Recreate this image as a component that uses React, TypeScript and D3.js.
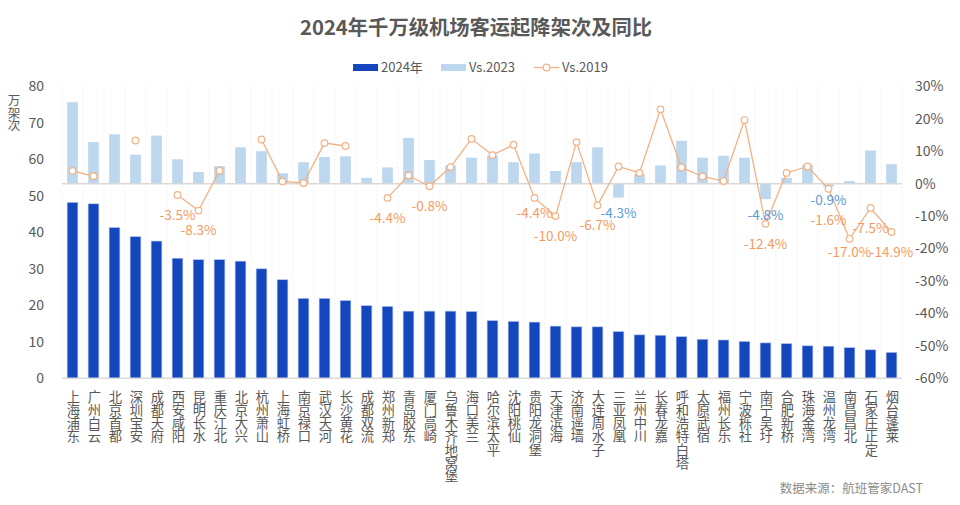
import React from "react";
import * as d3 from "d3";

const categories: string[] = [
  "上海浦东", "广州白云", "北京首都", "深圳宝安", "成都天府", "西安咸阳", "昆明长水", "重庆江北",
  "北京大兴", "杭州萧山", "上海虹桥", "南京禄口", "武汉天河", "长沙黄花", "成都双流", "郑州新郑",
  "青岛胶东", "厦门高崎", "乌鲁木齐地窝堡", "海口美兰", "哈尔滨太平", "沈阳桃仙", "贵阳龙洞堡", "天津滨海",
  "济南遥墙", "大连周水子", "三亚凤凰", "兰州中川", "长春龙嘉", "呼和浩特白塔", "太原武宿", "福州长乐",
  "宁波栎社", "南宁吴圩", "合肥新桥", "珠海金湾", "温州龙湾", "南昌昌北", "石家庄正定", "烟台蓬莱",
];

const movements2024: number[] = [
  48.2, 47.8, 41.3, 38.8, 37.6, 32.9, 32.5, 32.5, 32.1, 30.0,
  27.0, 21.9, 21.9, 21.3, 19.9, 19.7, 18.4, 18.4, 18.4, 18.3,
  15.8, 15.6, 15.4, 14.3, 14.1, 14.1, 12.8, 11.9, 11.8, 11.4,
  10.7, 10.5, 10.1, 9.7, 9.5, 8.9, 8.8, 8.4, 7.8, 7.1,
];

const vs2023: number[] = [
  25.1, 12.8, 15.2, 8.9, 14.8, 7.5, 3.6, 5.4, 11.2, 10.0,
  3.2, 6.6, 8.2, 8.4, 1.8, 5.0, 14.1, 7.3, 5.6, 8.0,
  8.7, 6.6, 9.3, 3.9, 6.6, 11.2, -4.3, 2.9, 5.6, 13.2,
  8.0, 8.6, 8.0, -4.8, 1.8, 5.8, -0.9, 0.8, 10.2, 6.0,
];

const vs2019: (number | null)[] = [
  3.9, 2.3, null, 13.3, null, -3.5, -8.3, 4.0, null, 13.6,
  0.7, 0.2, 12.5, 11.6, null, -4.4, 2.5, -0.8, 5.1, 13.8,
  8.8, 12.0, -4.4, -10.0, 12.8, -6.7, 5.3, 3.3, 22.9, 5.0,
  2.2, 0.8, 19.6, -12.4, 3.3, 5.3, -1.6, -17.0, -7.5, -14.9,
];

const leftTicks: number[] = [0, 10, 20, 30, 40, 50, 60, 70, 80];
const rightTicks: number[] = [30, 20, 10, 0, -10, -20, -30, -40, -50, -60];

const seriesNames = { a: "2024年", b: "Vs.2023", c: "Vs.2019" };
const titleText = "2024年千万级机场客运起降架次及同比";
const unitText = "万架次";
const sourceText = "数据来源：航班管家DAST";

// label offsets (layout only)
const lineLabelDy: Record<number, number> = { 22: 15, 36: 31, 37: 13 };
const barLabelDy: Record<number, number> = { 36: 14 };

const W = 960;
const H = 505;
const plot = { left: 62, right: 902, top: 86.3, bottom: 378.3 };

const DARK = "#1446BE";
const LIGHT = "#BDD7EE";
const LINE = "#F4B183";
const ORANGE_TXT = "#F59B5F";
const BLUE_TXT = "#5B9BD5";
const AXIS_TXT = "#595959";
const FONT = "'Noto Sans CJK SC', 'Noto Sans', sans-serif";

export default function App() {
  const x = d3
    .scaleBand<number>()
    .domain(d3.range(categories.length))
    .range([plot.left, plot.right])
    .paddingInner(0.49)
    .paddingOuter(0.245);
  const yL = d3.scaleLinear().domain([0, 80]).range([plot.bottom, plot.top]);
  const yR = d3.scaleLinear().domain([-60, 30]).range([plot.bottom, plot.top]);
  const bw = x.bandwidth();
  const step = x.step();
  const cx = (i: number) => (x(i) as number) + bw / 2;

  const lineGen = d3
    .line<number | null>()
    .defined((d) => d !== null)
    .x((_, i) => cx(i))
    .y((d) => yR(d as number));

  const fmt = (v: number) => `${v.toFixed(1)}%`;

  return (
    <svg
      width={W}
      height={H}
      style={{ position: "absolute", left: 0, top: 0, background: "#fff" }}
      fontFamily={FONT}
    >
      <rect x={0} y={0} width={W} height={H} fill="#fff" />
      {/* title */}
      <text x={476} y={35} textAnchor="middle" fontSize={20.3} fontWeight="bold" fill={AXIS_TXT}>
        {titleText}
      </text>

      {/* legend */}
      <g fontSize={13} fill={AXIS_TXT}>
        <rect x={353} y={64} width={25} height={7} fill={DARK} />
        <text x={381} y={72}>{seriesNames.a}</text>
        <rect x={441} y={64} width={25} height={7} fill={LIGHT} />
        <text x={469} y={72}>{seriesNames.b}</text>
        <line x1={534} x2={559} y1={67.5} y2={67.5} stroke={LINE} strokeWidth={1.3} />
        <circle cx={546.5} cy={67.5} r={3.3} fill="#fff" stroke={LINE} strokeWidth={1.2} />
        <text x={562} y={72}>{seriesNames.c}</text>
      </g>

      {/* vertical grid */}
      {d3.range(categories.length + 1).map((k) => (
        <line
          key={"vg" + k}
          x1={plot.left + k * step}
          x2={plot.left + k * step}
          y1={plot.top}
          y2={plot.bottom}
          stroke="#EDEDED"
          strokeWidth={0.8}
          strokeDasharray="2,2"
        />
      ))}

      {/* vs2023 bars */}
      {vs2023.map((v, i) => (
        <rect
          key={"b23" + i}
          x={x(i)}
          y={Math.min(yR(v), yR(0))}
          width={bw}
          height={Math.abs(yR(v) - yR(0))}
          fill={LIGHT}
        />
      ))}

      {/* 2024 bars */}
      {movements2024.map((v, i) => (
        <rect
          key={"b24" + i}
          x={x(i)}
          y={yL(v)}
          width={bw}
          height={yL(0) - yL(v)}
          fill={DARK}
          stroke="#AFC3EE"
          strokeWidth={0.6}
        />
      ))}

      {/* zero line & bottom axis */}
      <line x1={plot.left} x2={plot.right} y1={yR(0)} y2={yR(0)} stroke="#D9D9D9" strokeWidth={1.5} />
      <line x1={plot.left} x2={plot.right} y1={plot.bottom} y2={plot.bottom} stroke="#D9D9D9" strokeWidth={1.5} />

      {/* left axis */}
      <g fontSize={14} fill={AXIS_TXT} textAnchor="end">
        {leftTicks.map((t) => (
          <text key={"lt" + t} x={44} y={yL(t)} dy="0.35em">
            {t}
          </text>
        ))}
      </g>
      <text fontSize={12.5} fill={AXIS_TXT} textAnchor="middle">
        {unitText.split("").map((c, k) => (
          <tspan key={"u" + k} x={14} y={105 + k * 12.6}>
            {c}
          </tspan>
        ))}
      </text>

      {/* right axis */}
      <g fontSize={14} fill={AXIS_TXT} textAnchor="start">
        {rightTicks.map((t) => (
          <text key={"rt" + t} x={915} y={yR(t)} dy="0.35em">
            {t}%
          </text>
        ))}
      </g>

      {/* category labels */}
      <g fontSize={13.3} fill={AXIS_TXT} textAnchor="middle">
        {categories.map((c, i) => (
          <text key={"c" + i}>
            {c.split("").map((ch, k) => (
              <tspan key={k} x={cx(i) + 1} y={401.5 + k * 13.3}>
                {ch}
              </tspan>
            ))}
          </text>
        ))}
      </g>

      {/* vs2019 line */}
      <path d={lineGen(vs2019) || ""} fill="none" stroke={LINE} strokeWidth={1.3} />
      {vs2019.map((v, i) =>
        v === null ? null : (
          <circle key={"m" + i} cx={cx(i)} cy={yR(v)} r={3.3} fill="#fff" stroke={LINE} strokeWidth={1.2} />
        )
      )}

      {/* vs2023 negative labels */}
      <g fontSize={13.5} fill={BLUE_TXT} textAnchor="middle">
        {vs2023.map((v, i) =>
          v < 0 ? (
            <text key={"l23" + i} x={cx(i)} y={yR(v) + (barLabelDy[i] ?? 16)} dy="0.35em">
              {fmt(v)}
            </text>
          ) : null
        )}
      </g>

      {/* vs2019 negative labels */}
      <g fontSize={13.5} fill={ORANGE_TXT} textAnchor="middle">
        {vs2019.map((v, i) =>
          v !== null && v < 0 ? (
            <text key={"l19" + i} x={cx(i)} y={yR(v) + (lineLabelDy[i] ?? 20)} dy="0.35em">
              {fmt(v)}
            </text>
          ) : null
        )}
      </g>

      {/* source */}
      <text x={923} y={493} textAnchor="end" fontSize={12.5} fill="#8C8C8C">
        {sourceText}
      </text>
    </svg>
  );
}
